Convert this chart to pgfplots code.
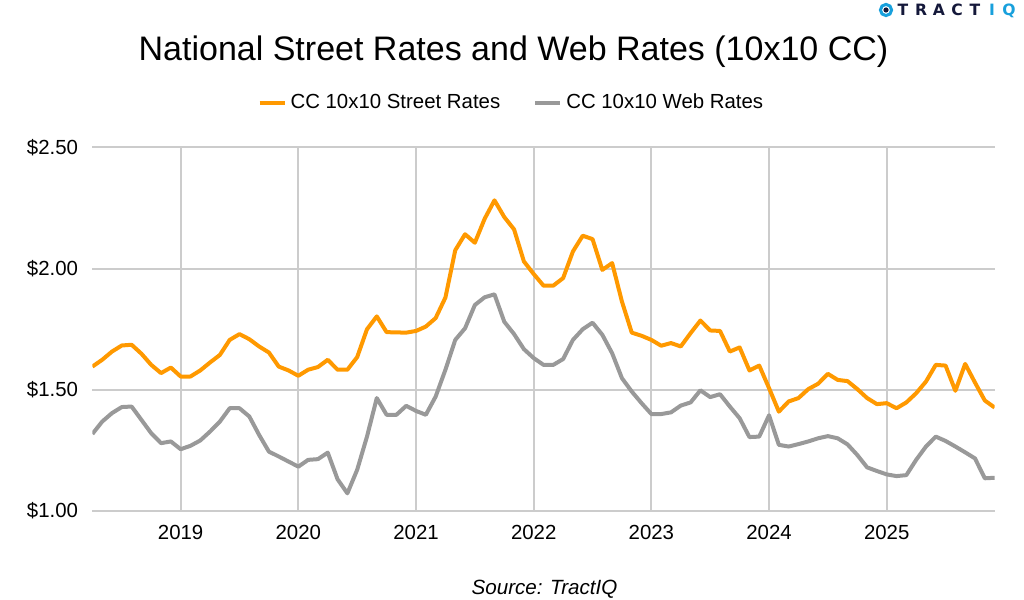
\documentclass[border=0pt]{standalone}
\usepackage{fontspec}
\setmainfont{Liberation Sans}
\newfontfamily\logofont{DejaVu Sans}
\usepackage{pgfplots}
\usepackage{pgfplotstable}
\pgfplotsset{compat=1.18}

\definecolor{streetorange}{RGB}{255,153,0}
\definecolor{webgray}{RGB}{153,153,153}
\definecolor{gridgray}{RGB}{204,204,204}
\definecolor{logonavy}{RGB}{20,24,58}
\definecolor{logoblue}{RGB}{24,160,220}

% month index 0 = Apr 2018 ... 92 = Dec 2025
\pgfplotstableread{
m street web
0 1.596 1.318
1 1.624 1.369
2 1.658 1.404
3 1.683 1.429
4 1.686 1.431
5 1.649 1.376
6 1.603 1.321
7 1.569 1.280
8 1.592 1.287
9 1.555 1.255
10 1.555 1.269
11 1.580 1.291
12 1.613 1.328
13 1.644 1.369
14 1.706 1.424
15 1.730 1.424
16 1.709 1.390
17 1.679 1.314
18 1.654 1.245
19 1.596 1.225
20 1.580 1.204
21 1.558 1.183
22 1.583 1.211
23 1.594 1.214
24 1.624 1.241
25 1.583 1.131
26 1.583 1.073
27 1.635 1.170
28 1.750 1.307
29 1.803 1.466
30 1.738 1.397
31 1.737 1.397
32 1.736 1.434
33 1.743 1.413
34 1.761 1.397
35 1.796 1.472
36 1.881 1.583
37 2.076 1.706
38 2.142 1.754
39 2.107 1.850
40 2.206 1.882
41 2.282 1.894
42 2.213 1.781
43 2.162 1.730
44 2.030 1.668
45 1.978 1.631
46 1.930 1.603
47 1.930 1.603
48 1.961 1.627
49 2.071 1.706
50 2.136 1.750
51 2.122 1.777
52 1.995 1.727
53 2.023 1.651
54 1.864 1.548
55 1.736 1.493
56 1.723 1.445
57 1.706 1.400
58 1.682 1.400
59 1.693 1.407
60 1.679 1.435
61 1.734 1.448
62 1.786 1.498
63 1.745 1.470
64 1.743 1.482
65 1.658 1.431
66 1.675 1.383
67 1.580 1.305
68 1.600 1.307
69 1.507 1.395
70 1.410 1.273
71 1.452 1.266
72 1.466 1.276
73 1.503 1.287
74 1.525 1.300
75 1.566 1.309
76 1.541 1.300
77 1.536 1.275
78 1.503 1.231
79 1.466 1.180
80 1.441 1.165
81 1.445 1.151
82 1.424 1.144
83 1.448 1.148
84 1.486 1.211
85 1.534 1.266
86 1.603 1.307
87 1.600 1.289
88 1.496 1.266
89 1.607 1.242
90 1.530 1.217
91 1.456 1.135
92 1.427 1.137
}\rates

\begin{document}
\begin{tikzpicture}
\useasboundingbox (0,0) rectangle (512pt,300pt);

% title
\node[anchor=base, inner sep=0pt, font=\fontsize{17}{20}\selectfont]
  at (256.75pt,269.9pt) {National Street Rates and Web Rates (10x10 CC)};

% logo
\draw[logoblue, line width=1.5pt] (443pt,295pt) circle (2.8pt);
\fill[logonavy] (443pt,295pt) circle (1.3pt);
\foreach \ch/\xx/\cc in {T/451.5/logonavy, R/460.5/logonavy, A/469.5/logonavy, C/478.5/logonavy, T/487.5/logonavy, I/496/logoblue, Q/504.5/logoblue}
  \node[anchor=base, inner sep=0pt, text=\cc, font=\logofont\bfseries\fontsize{7.8}{8}\selectfont] at (\xx pt,292.2pt) {\ch};

\begin{axis}[
  at={(46.2pt,44.5pt)}, anchor=south west,
  scale only axis,
  width=451.1pt, height=181.75pt,
  xmin=0, xmax=92,
  ymin=1, ymax=2.5,
  xtick={9,21,33,45,57,69,81},
  xticklabels={2019,2020,2021,2022,2023,2024,2025},
  ytick={1,1.5,2,2.5},
  yticklabels={\$1.00,\$1.50,\$2.00,\$2.50},
  /pgf/number format/assume math mode=true,
  grid=major,
  major grid style={line width=1pt, gridgray},
  axis line style={draw=none},
  tick style={draw=none},
  ticklabel style={font=\fontsize{10.2}{12}\selectfont, text=black},
  yticklabel style={inner sep=0pt, xshift=-7pt},
  xticklabel style={inner sep=0pt, yshift=-7pt},
  legend columns=2,
  legend style={at={(0.4655,1.123)}, anchor=center, draw=none, fill=none,
    font=\fontsize{10.2}{12}\selectfont,
    /tikz/every even column/.append style={column sep=14.5pt}},
  legend image code/.code={\draw[#1, line width=2pt] (-2.5pt,0pt) -- (10pt,0pt);},
]
\addplot[streetorange, line width=2pt, line join=round] table[x=m, y=street] {\rates};
\addlegendentry{CC 10x10 Street Rates}
\addplot[webgray, line width=2pt, line join=round] table[x=m, y=web] {\rates};
\addlegendentry{CC 10x10 Web Rates}
\end{axis}

% source
\node[anchor=base, inner sep=0pt, font=\itshape\fontsize{10.3}{12}\selectfont]
  at (272.25pt,2.5pt) {Source: TractIQ};
\end{tikzpicture}
\end{document}
